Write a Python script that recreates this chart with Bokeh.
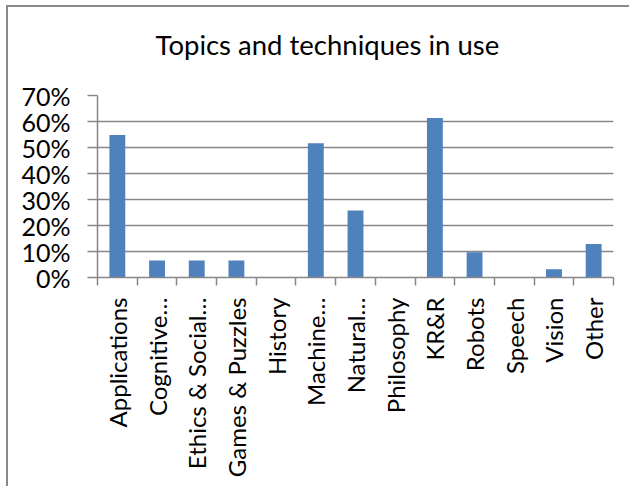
import math
from bokeh.plotting import figure
from bokeh.layouts import column
from bokeh.models import Range1d, FixedTicker, NumeralTickFormatter, Title
from bokeh.embed import file_html
from bokeh.resources import INLINE

categories = ["Applications", "Cognitive…", "Ethics & Social…", "Games & Puzzles",
              "History", "Machine…", "Natural…", "Philosophy", "KR&R", "Robots",
              "Speech", "Vision", "Other"]
shares = [0.548, 0.065, 0.065, 0.065, 0.0, 0.516, 0.258, 0.0, 0.613, 0.097, 0.0, 0.032, 0.129]
y_ticks = [0.0, 0.1, 0.2, 0.3, 0.4, 0.5, 0.6, 0.7]
title_text = "Topics and techniques in use"

FONT = "Lato"
GRAY = "#878787"
BAR = "#4F81BD"

n = len(categories)
xs = list(range(n))

p = figure(width=621, height=479, output_backend="svg", toolbar_location=None,
           x_range=Range1d(-0.5, n - 0.5), y_range=Range1d(y_ticks[0], y_ticks[-1]),
           min_border_left=89, min_border_right=16, min_border_top=88, min_border_bottom=209,
           title=None)
p.outline_line_color = None
p.background_fill_color = "white"
p.border_fill_color = "white"

# spacer between frame and title, then the title itself (first added sits nearest the frame)
spacer = Title(text=" ", text_font_size="1px", standoff=32)
p.add_layout(spacer, "above")
main_title = Title(text=title_text, align="left", offset=58, standoff=0,
                   text_font=FONT, text_font_size="27.5px", text_font_style="normal",
                   text_color="black")
p.add_layout(main_title, "above")

p.vbar(x=xs, top=shares, width=0.4, fill_color=BAR, line_color=None)

# x axis
xa = p.xaxis[0]
xa.ticker = FixedTicker(ticks=xs, minor_ticks=[i - 0.5 for i in range(n + 1)])
xa.major_label_overrides = {i: c for i, c in zip(xs, categories)}
xa.major_label_orientation = math.pi / 2
xa.major_tick_line_color = None
xa.major_tick_out = 0
xa.major_tick_in = 0
xa.minor_tick_line_color = GRAY
xa.minor_tick_out = 8
xa.minor_tick_in = 0
xa.minor_tick_line_width = 1.5
xa.axis_line_color = GRAY
xa.axis_line_width = 1.5
xa.major_label_standoff = 12
xa.major_label_text_font = FONT
xa.major_label_text_font_size = "24px"
xa.major_label_text_color = "black"

# y axis
ya = p.yaxis[0]
ya.ticker = FixedTicker(ticks=y_ticks)
ya.formatter = NumeralTickFormatter(format="0%")
ya.major_tick_out = 10
ya.major_tick_in = 0
ya.major_tick_line_color = GRAY
ya.major_tick_line_width = 1.5
ya.minor_tick_line_color = None
ya.axis_line_color = GRAY
ya.axis_line_width = 1.5
ya.major_label_standoff = 17
ya.major_label_text_font = FONT
ya.major_label_text_font_size = "25px"
ya.major_label_text_color = "black"

p.xgrid.grid_line_color = None
p.ygrid.grid_line_color = GRAY
p.ygrid.grid_line_width = 1.5

layout = column(p, styles={"border-left": "2px solid #8a8a8a", "border-top": "2px solid #8a8a8a",
                           "margin-left": "6px", "margin-top": "5px"})

open("out.html", "w").write(file_html(layout, INLINE))
